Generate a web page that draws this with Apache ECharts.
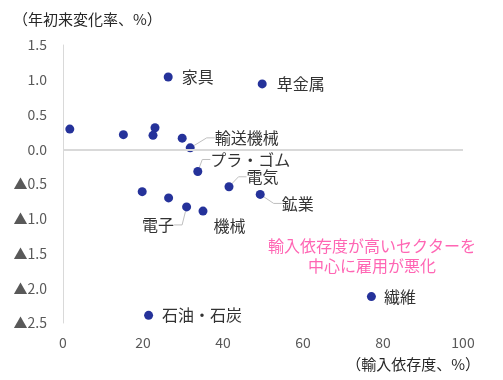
<!DOCTYPE html>
<html><head><meta charset="utf-8">
<script src="https://cdn.jsdelivr.net/npm/echarts@6/dist/echarts.min.js"></script>
<style>html,body{margin:0;padding:0;background:#fff}#c{width:503px;height:380px}</style>
</head><body><div id="c"></div>
<script>
// Data
const sectorNames = ['家具','卑金属','','','','','','輸送機械','プラ・ゴム','電気','鉱業','','','電子','機械','繊維','石油・石炭'];
const importDependence = [26.3, 49.8, 1.7, 15.1, 23.0, 22.5, 29.8, 31.8, 33.7, 41.5, 49.3, 19.8, 26.4, 30.9, 35.0, 77.1, 21.4];
const employmentChange = [1.04, 0.94, 0.29, 0.21, 0.31, 0.20, 0.16, 0.02, -0.32, -0.54, -0.65, -0.61, -0.70, -0.83, -0.89, -2.12, -2.39];
const yTickValues = [-2.5, -2.0, -1.5, -1.0, -0.5, 0.0, 0.5, 1.0, 1.5];
const yTickLabels = ['▲2.5','▲2.0','▲1.5','▲1.0','▲0.5','0.0','0.5','1.0','1.5'];
const xTickLabels = ['0','20','40','60','80','100'];
const yAxisTitle = '（年初来変化率、%）';
const xAxisTitle = '（輸入依存度、%）';
const noteText = '輸入依存度が高いセクターを\n中心に雇用が悪化';

// Label placement (styling, not data)
const labelPos  = ['right','right','right','right','right','right','right','right','right','right','right','right','right','left','right','right','right'];
const labelDx   = [9, 10, 0, 0, 0, 0, 0, 20, 8, 13, 17, 0, 0, -8, 6, 8, 9];
const labelDy   = [0, 0, 0, 0, 0, 0, 0, -10, -12, -10, 9, 0, 0, 18, 15, 0, 0];
const labelLeader = [false,false,false,false,false,false,false,true,true,true,true,false,false,true,false,false,false];

const FONT = '"Noto Sans CJK JP", "Noto Sans", sans-serif';

const points = importDependence.map((x, i) => ({
  value: [x, employmentChange[i]],
  name: sectorNames[i],
  label: { show: sectorNames[i] !== '', position: labelPos[i] },
  labelLine: { show: labelLeader[i] }
}));

const chart = echarts.init(document.getElementById('c'), null, { renderer: 'canvas' });
chart.setOption({
  animation: false,
  backgroundColor: '#fff',
  title: [
    { text: yAxisTitle, left: 8, top: 7, textStyle: { fontFamily: FONT, fontSize: 15, fontWeight: 'normal', color: '#262626' } },
    { text: xAxisTitle, right: 18, top: 352, textStyle: { fontFamily: FONT, fontSize: 15, fontWeight: 'normal', color: '#262626' } }
  ],
  graphic: [{
    type: 'text', left: 268, top: 236,
    style: { text: noteText, fill: '#ff66b4', font: '16px ' + FONT, align: 'center', lineHeight: 20, textAlign: 'center' }
  }],
  grid: { left: 63, right: 40, top: 45, bottom: 57, containLabel: false },
  xAxis: {
    type: 'value', min: 0, max: 100, interval: 20,
    axisLine: { show: false }, axisTick: { show: false }, splitLine: { show: false },
    axisLabel: { margin: 13, fontFamily: FONT, fontSize: 14, color: '#595959',
      formatter: v => xTickLabels[Math.round(v / 20)] }
  },
  yAxis: {
    type: 'value', min: -2.5, max: 1.5, interval: 0.5,
    axisLine: { show: true, onZero: false, lineStyle: { color: '#d9d9d9', width: 1 } },
    axisTick: { show: false }, splitLine: { show: false },
    axisLabel: { margin: 16, fontFamily: FONT, fontSize: 14, color: '#595959',
      formatter: v => { const k = yTickValues.findIndex(t => Math.abs(t - v) < 1e-6); return k >= 0 ? yTickLabels[k] : ''; } }
  },
  series: [{
    type: 'scatter',
    symbol: 'circle', symbolSize: 9,
    itemStyle: { color: '#25329a', opacity: 1 },
    data: points,
    label: { show: true, formatter: '{b}', distance: 0, fontFamily: FONT, fontSize: 16, color: '#333' },
    labelLine: { show: false, length2: 8, lineStyle: { color: '#bfbfbf', width: 1 } },
    labelLayout: p => ({ dx: labelDx[p.dataIndex], dy: labelDy[p.dataIndex] }),
    markLine: {
      silent: true, symbol: 'none', label: { show: false },
      lineStyle: { color: '#d9d9d9', width: 2, type: 'solid' },
      data: [{ yAxis: 0 }]
    },
    z: 3
  }]
});
</script></body></html>
